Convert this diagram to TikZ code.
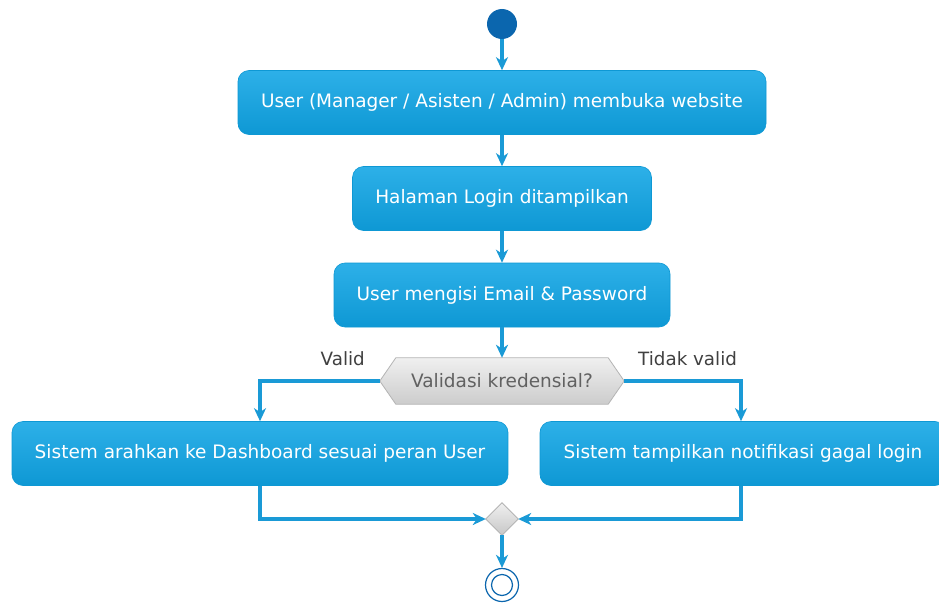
\documentclass[tikz,border=0pt]{standalone}
\usepackage{fontspec}
\setmainfont{DejaVu Sans}
\usetikzlibrary{arrows.meta}
\definecolor{boxtop}{HTML}{2DB0E8}
\definecolor{boxbot}{HTML}{0E98D4}
\definecolor{linec}{HTML}{1A9AD6}
\definecolor{startc}{HTML}{0B66AE}
\definecolor{decborder}{HTML}{B4B4B4}
\tikzset{
  act/.style={rounded corners=11pt, top color=boxtop, bottom color=boxbot, draw=boxbot, line width=0.6pt,
    text=white, font=\fontsize{18.5}{22}\selectfont, inner sep=0pt, minimum height=64pt},
  arr/.style={draw=linec, line width=3.4pt, -{Stealth[length=13pt,width=12pt,inset=4pt]}},
  lbl/.style={text=black!75, font=\fontsize{18.3}{22}\selectfont, inner sep=0pt},
}
\begin{document}
\begin{tikzpicture}[x=1pt,y=-1pt]
\clip (0,0) rectangle (939,602);
\fill[white] (0,0) rectangle (939,602);
% start
\node[circle, fill=startc, minimum size=30pt, inner sep=0pt] (s) at (502,24) {};
\node[act, minimum width=528pt] (a1) at (502,102.5) {User (Manager / Asisten / Admin) membuka website};
\node[act, minimum width=299pt] (a2) at (502,198.5) {Halaman Login ditampilkan};
\node[act, minimum width=336pt] (a3) at (502,295) {User mengisi Email \& Password};
% decision
\node[inner sep=0pt, minimum width=244pt, minimum height=46pt] (d) at (502,381) {};
\shade[top color=black!6, bottom color=black!20, draw=decborder, line width=0.8pt]
  (d.west) -- ([xshift=16pt]d.north west) -- ([xshift=-16pt]d.north east) -- (d.east)
  -- ([xshift=-16pt]d.south east) -- ([xshift=16pt]d.south west) -- cycle;
\node[text=black!62, font=\fontsize{18.5}{22}\selectfont] (dt) at (502,381) {Validasi kredensial?};
\node[lbl, anchor=south east] (lv) at (365,366) {Valid};
\node[lbl, anchor=south west] (lt) at (638,366) {Tidak valid};
\node[act, minimum width=496pt] (L) at (260,453.5) {Sistem arahkan ke Dashboard sesuai peran User};
\node[act, minimum width=406pt] (R) at (743,453.5) {Sistem tampilkan notifikasi gagal login};
% merge
\node[inner sep=0pt, minimum size=32pt] (m) at (502,519) {};
\shade[top color=black!6, bottom color=black!22, draw=decborder, line width=0.8pt]
  (m.north) -- (m.east) -- (m.south) -- (m.west) -- cycle;
% end
\node[circle, draw=startc, line width=1.2pt, fill=white, minimum size=33pt, inner sep=0pt] (e) at (502,585) {};
\node[circle, draw=startc, line width=1.2pt, minimum size=21pt, inner sep=0pt] (e2) at (502,585) {};
% connectors
\draw[arr] (s.south) -- (a1.north);
\draw[arr] (a1.south) -- (a2.north);
\draw[arr] (a2.south) -- (a3.north);
\draw[arr] (a3.south) -- (d.north);
\draw[arr] (d.west) -| (L.north);
\draw[arr] (d.east) -| ([xshift=-2pt]R.north);
\draw[arr] (L.south) |- (m.west);
\draw[arr] ([xshift=-2pt]R.south) |- (m.east);
\draw[arr] (m.south) -- (e.north);
\end{tikzpicture}
\end{document}
